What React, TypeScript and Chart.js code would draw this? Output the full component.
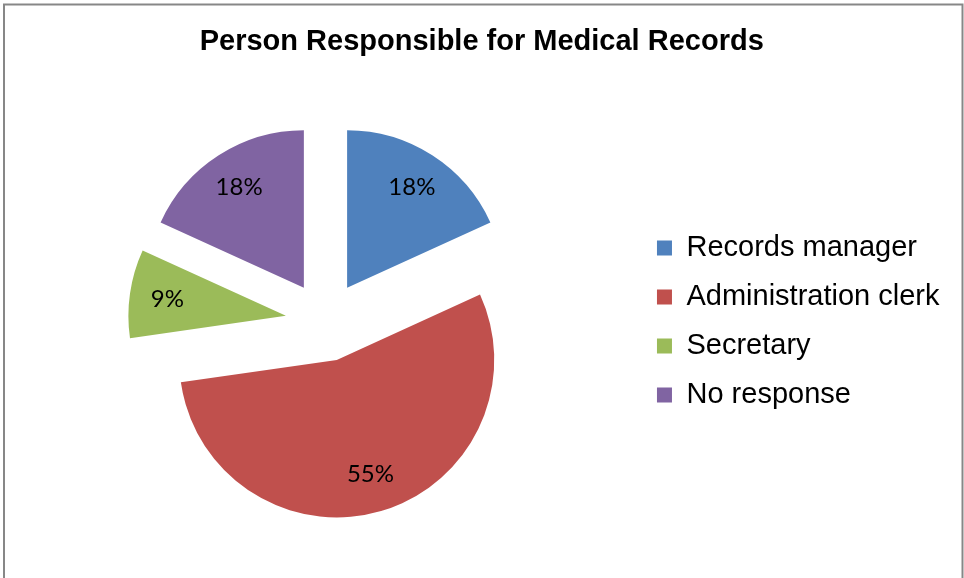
import { useEffect, useRef } from 'react';
import { Chart, registerables } from 'chart.js';

Chart.register(...registerables);

const TITLE = 'Person Responsible for Medical Records';
const categories = ['Records manager', 'Administration clerk', 'Secretary', 'No response'];
const counts = [2, 6, 1, 2];
const colors = ['#4F81BD', '#C0504D', '#9BBB59', '#8064A2'];

const EXPLODE = 40;
const LABEL_POS = 0.76;
const SANS = "Arial, 'Liberation Sans', sans-serif";

const framePlugin = {
  id: 'frame',
  beforeDraw(chart: any) {
    const ctx = chart.ctx;
    ctx.save();
    ctx.fillStyle = '#ffffff';
    ctx.fillRect(0, 0, chart.width, chart.height);
    ctx.strokeStyle = '#878787';
    ctx.lineWidth = 2;
    ctx.strokeRect(4, 4.5, 958.5, 620);
    ctx.restore();
  },
};

const explodePlugin = {
  id: 'explode',
  beforeDatasetDraw(chart: any, args: any) {
    const ctx = chart.ctx;
    args.meta.data.forEach((arc: any) => {
      const mid = (arc.startAngle + arc.endAngle) / 2;
      ctx.save();
      ctx.translate(Math.cos(mid) * EXPLODE, Math.sin(mid) * EXPLODE);
      arc.draw(ctx);
      ctx.restore();
    });
    return false;
  },
};

const labelPlugin = {
  id: 'pctLabels',
  afterDatasetsDraw(chart: any) {
    const ctx = chart.ctx;
    const total = counts.reduce((a, b) => a + b, 0);
    const meta = chart.getDatasetMeta(0);
    ctx.save();
    ctx.fillStyle = '#000000';
    ctx.font = "24px Lato, 'Open Sans', sans-serif";
    ctx.textAlign = 'center';
    ctx.textBaseline = 'middle';
    meta.data.forEach((arc: any, i: number) => {
      const { x, y, startAngle, endAngle, outerRadius } = arc.getProps(
        ['x', 'y', 'startAngle', 'endAngle', 'outerRadius'],
        true
      );
      const mid = (startAngle + endAngle) / 2;
      const dist = EXPLODE + outerRadius * LABEL_POS;
      const pct = Math.round((counts[i] / total) * 100) + '%';
      ctx.fillText(pct, x + Math.cos(mid) * dist, y + Math.sin(mid) * dist);
    });
    ctx.restore();
  },
};

export default function App() {
  const ref = useRef<HTMLCanvasElement>(null);

  useEffect(() => {
    const chart = new Chart(ref.current as HTMLCanvasElement, {
      type: 'pie',
      data: {
        labels: categories,
        datasets: [
          {
            data: counts,
            backgroundColor: colors,
            borderWidth: 0,
            hoverOffset: 0,
            offset: 0,
            radius: 157.5,
          } as any,
        ],
      },
      options: {
        responsive: false,
        animation: false,
        devicePixelRatio: 1,
        events: [],
        layout: {
          padding: { left: 14, right: 14.5, top: 0, bottom: 79 },
        },
        plugins: {
          title: {
            display: true,
            text: TITLE,
            color: '#000000',
            font: { family: SANS, size: 29, weight: 'bold', lineHeight: 1.2 },
            padding: { top: 24.6, bottom: 84.6 },
          },
          legend: {
            display: true,
            position: 'right',
            fullSize: false,
            align: 'center',
            labels: {
              boxWidth: 15,
              boxHeight: 15,
              padding: 20,
              color: '#000000',
              font: { family: SANS, size: 29 },
            },
          },
          tooltip: { enabled: false },
        },
      } as any,
      plugins: [framePlugin, explodePlugin, labelPlugin],
    });
    return () => chart.destroy();
  }, []);

  return (
    <div style={{ position: 'absolute', left: 0, top: 0, width: 964, height: 578, overflow: 'hidden' }}>
      <canvas ref={ref} width={964} height={578} style={{ display: 'block' }} />
    </div>
  );
}
